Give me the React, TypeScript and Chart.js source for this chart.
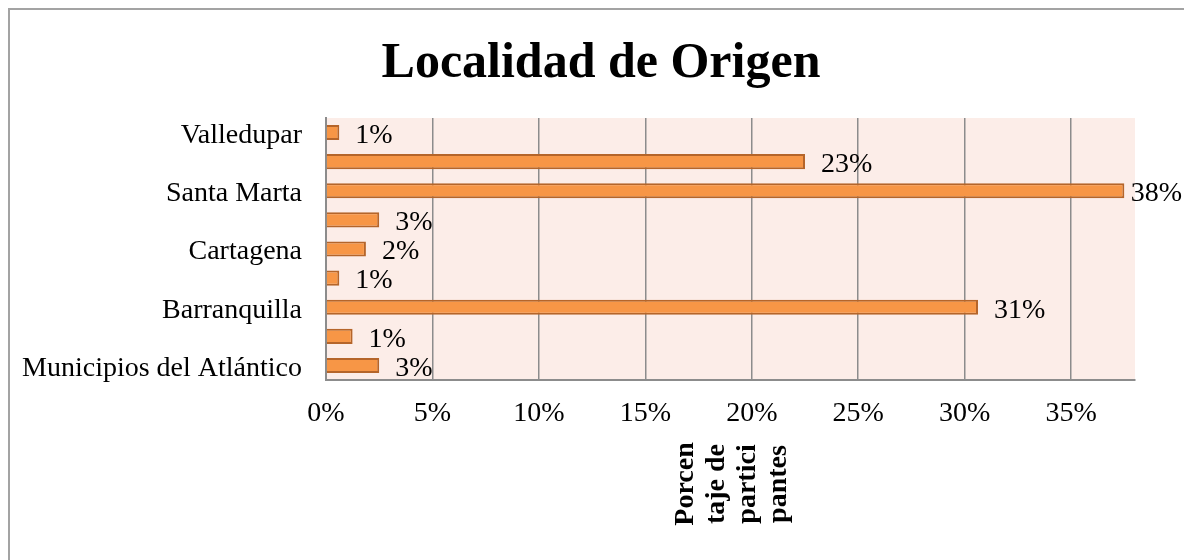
import React, { useEffect, useRef } from "react";
import { Chart, registerables } from "chart.js";

Chart.register(...registerables);

const titleText = "Localidad de Origen";
const categories = [
  "Valledupar",
  "",
  "Santa Marta",
  "",
  "Cartagena",
  "",
  "Barranquilla",
  "",
  "Municipios del Atlántico",
];
const values = [0.625, 22.5, 37.5, 2.5, 1.875, 0.625, 30.625, 1.25, 2.5];
const axisMax = 38;
const axisStep = 5;
const axisTitleLines = ["Porcen", "taje de", "partici", "pantes"];

const SERIF = '"Liberation Serif", "Times New Roman", serif';

const plotBg = {
  id: "plotBg",
  beforeDraw(chart: any) {
    const { ctx, chartArea: a } = chart;
    ctx.save();
    ctx.fillStyle = "#FCEDE8";
    ctx.fillRect(a.left, a.top, a.right - a.left, a.bottom - a.top);
    ctx.restore();
  },
};

const chartTitle = {
  id: "chartTitle",
  afterDraw(chart: any) {
    const { ctx } = chart;
    ctx.save();
    ctx.font = `bold 50px ${SERIF}`;
    ctx.fillStyle = "#000";
    ctx.textAlign = "center";
    ctx.textBaseline = "middle";
    ctx.fillText(titleText, 591, 54);
    ctx.restore();
  },
};

const valueLabels = {
  id: "valueLabels",
  afterDatasetsDraw(chart: any) {
    const { ctx } = chart;
    const meta = chart.getDatasetMeta(0);
    ctx.save();
    ctx.font = `28px ${SERIF}`;
    ctx.fillStyle = "#000";
    ctx.textAlign = "left";
    ctx.textBaseline = "middle";
    meta.data.forEach((bar: any, i: number) => {
      const txt = Math.round(values[i]) + "%";
      const w = ctx.measureText(txt).width;
      let x = bar.x + 16;
      if (x + w > chart.width - 2) x = chart.width - 2 - w;
      ctx.fillText(txt, x, bar.y + 3);
    });
    ctx.restore();
  },
};

const axisTitle = {
  id: "axisTitle",
  afterDraw(chart: any) {
    const { ctx, chartArea: a } = chart;
    const cx = (a.left + a.right) / 2 + 2;
    const cy = a.bottom + 104;
    ctx.save();
    ctx.translate(cx, cy);
    ctx.rotate(-Math.PI / 2);
    ctx.font = `bold 28px ${SERIF}`;
    ctx.fillStyle = "#000";
    ctx.textAlign = "center";
    ctx.textBaseline = "middle";
    const n = axisTitleLines.length;
    axisTitleLines.forEach((line, i) => {
      ctx.fillText(line, 0, (i - (n - 1) / 2) * 31);
    });
    ctx.restore();
  },
};

export default function App() {
  const ref = useRef<HTMLCanvasElement>(null);
  useEffect(() => {
    if (!ref.current) return;
    const chart = new Chart(ref.current, {
      type: "bar",
      data: {
        labels: categories,
        datasets: [
          {
            data: values,
            backgroundColor: "#F79646",
            borderColor: "#B5652A",
            borderWidth: 2,
            barPercentage: 0.52,
            categoryPercentage: 1,
          },
        ],
      },
      plugins: [plotBg, valueLabels, axisTitle, chartTitle],
      options: {
        indexAxis: "y",
        animation: false,
        responsive: false,
        layout: { padding: { left: 0, right: 49, top: 108, bottom: 0 } },
        plugins: {
          legend: { display: false },
          tooltip: { enabled: false },
          title: { display: false },
        },
        scales: {
          x: {
            min: 0,
            max: axisMax,
            afterFit(scale: any) {
              scale.height = 180;
            },
            ticks: {
              stepSize: axisStep,
              includeBounds: false,
              padding: 17,
              color: "#000",
              font: { family: SERIF, size: 28 },
              callback: (v: any) => v + "%",
            },
            grid: { color: "#8c8c8c", lineWidth: 1.5, drawTicks: false },
            border: { display: true, color: "#8c8c8c", width: 2 },
          },
          y: {
            afterFit(scale: any) {
              scale.width = 316;
            },
            ticks: {
              autoSkip: false,
              padding: 24,
              labelOffset: 3,
              color: "#000",
              font: { family: SERIF, size: 28 },
            },
            grid: { display: false, drawTicks: false },
            border: { display: true, color: "#8c8c8c", width: 2 },
          },
        },
      },
    });
    return () => chart.destroy();
  }, []);

  return (
    <div
      style={{
        position: "fixed",
        left: 8,
        top: 8,
        width: 1176,
        height: 552,
        boxSizing: "border-box",
        borderTop: "2px solid #a3a3a3",
        borderLeft: "2px solid #a3a3a3",
        background: "#fff",
      }}
    >
      <canvas ref={ref} width={1174} height={550} style={{ display: "block" }} />
    </div>
  );
}
